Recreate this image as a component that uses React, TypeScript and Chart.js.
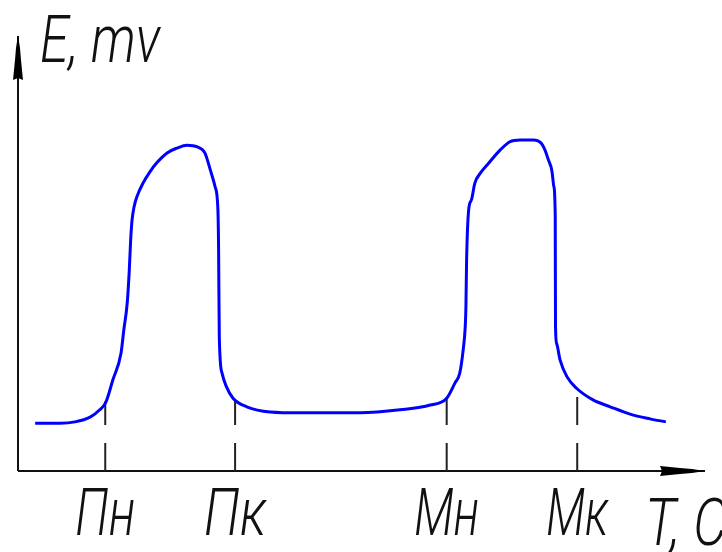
import React, { useEffect, useRef } from "react";
import { Chart, registerables } from "chart.js";

Chart.register(...registerables);

// Curve samples (T and E in arbitrary units 0..100)
const curveT = [2.5, 6.1, 8.3, 10.5, 11.9, 12.8, 13.8, 15.0, 15.4, 15.9, 16.2, 16.4, 16.6, 16.9, 17.3, 18.2, 19.2, 20.2, 21.7, 23.1, 24.6, 26.1, 27.2, 28.0, 28.7, 29.1, 29.2, 29.3, 29.7, 30.3, 31.3, 33.3, 36.7, 41.1, 49.8, 55.6, 60.0, 62.4, 63.6, 64.3, 64.8, 65.1, 65.2, 65.3, 65.6, 66.0, 66.5, 67.3, 68.5, 70.2, 71.6, 73.1, 75.0, 76.2, 76.7, 77.2, 77.7, 78.0, 78.2, 78.24, 78.4, 78.9, 79.9, 81.3, 83.7, 86.2, 89.1, 92.0, 94.3];
const curveE = [11.1, 11.1, 11.4, 12.5, 14.2, 16.0, 21.1, 27.4, 32.7, 39.0, 46.6, 53.6, 58.2, 61.3, 63.6, 66.8, 69.4, 71.5, 73.8, 74.9, 75.6, 75.2, 73.8, 69.8, 65.9, 60.6, 51.3, 31.1, 22.7, 19.7, 16.9, 14.9, 13.7, 13.5, 13.5, 14.2, 15.3, 16.9, 20.4, 22.7, 28.1, 33.5, 38.1, 49.0, 60.6, 62.9, 66.8, 69.1, 71.4, 74.5, 76.4, 76.8, 76.8, 76.0, 74.5, 72.2, 69.8, 66.0, 59.0, 33.5, 29.6, 25.8, 21.9, 19.2, 16.5, 14.9, 13.2, 12.1, 11.4];

// Marked points on the T axis
const tickLabels = ["Пн", "Пк", "Мн", "Мк"];
const tickT = [12.7, 31.6, 62.4, 81.4];
const tickE = [16.2, 16.2, 16.9, 19.3];

const yAxisTitle = "E, mv";
const xAxisTitle = "T, C";

const FONT_FAMILY = "Roboto, 'DejaVu Sans', sans-serif";

function drawSquished(ctx: CanvasRenderingContext2D, text: string, x: number, baseline: number, targetWidth: number, align: "left" | "center") {
  ctx.save();
  ctx.font = `italic 300 66px ${FONT_FAMILY}`;
  ctx.fillStyle = "#111";
  ctx.textBaseline = "alphabetic";
  ctx.textAlign = "left";
  const w = ctx.measureText(text).width || 1;
  const s = targetWidth / w;
  const startX = align === "center" ? x - targetWidth / 2 : x;
  ctx.translate(startX, baseline);
  ctx.scale(s, 1);
  ctx.fillText(text, 0, 0);
  ctx.restore();
}

const axesPlugin = {
  id: "axesArrows",
  beforeDatasetsDraw(chart: any) {
    const { ctx, chartArea } = chart;
    const { left, right, top, bottom } = chartArea;
    ctx.save();
    ctx.strokeStyle = "#111";
    ctx.lineWidth = 2;
    ctx.beginPath();
    ctx.moveTo(left, bottom);
    ctx.lineTo(left, top - 4);
    ctx.moveTo(left, bottom);
    ctx.lineTo(right, bottom);
    ctx.stroke();
    ctx.fillStyle = "#000";
    // Y arrow
    ctx.beginPath();
    ctx.moveTo(left, top - 5);
    ctx.lineTo(left + 2, top + 8);
    ctx.lineTo(left + 3, top + 20);
    ctx.lineTo(left + 5, top + 40);
    ctx.lineTo(left, top + 38);
    ctx.lineTo(left - 5, top + 40);
    ctx.lineTo(left - 3, top + 20);
    ctx.lineTo(left - 2, top + 8);
    ctx.closePath();
    ctx.fill();
    // X arrow
    ctx.beginPath();
    ctx.moveTo(right, bottom);
    ctx.lineTo(right - 13, bottom - 2);
    ctx.lineTo(right - 25, bottom - 3);
    ctx.lineTo(right - 45, bottom - 5);
    ctx.lineTo(right - 43, bottom);
    ctx.lineTo(right - 45, bottom + 5);
    ctx.lineTo(right - 25, bottom + 3);
    ctx.lineTo(right - 13, bottom + 2);
    ctx.closePath();
    ctx.fill();
    ctx.restore();
  },
  afterDraw(chart: any) {
    const { ctx, chartArea, scales } = chart;
    const { left, top, bottom, right } = chartArea;
    const labelWidths = [60, 62, 65, 62];
    tickLabels.forEach((lab, i) => {
      const x = scales.x.getPixelForValue(tickT[i]);
      drawSquished(ctx, lab, x, bottom + 64, labelWidths[i], "center");
    });
    drawSquished(ctx, yAxisTitle, left + 22, top + 22, 120, "left");
    drawSquished(ctx, xAxisTitle, right - 60, bottom + 74, 82, "left");
  },
};

export default function App() {
  const ref = useRef<HTMLCanvasElement | null>(null);
  useEffect(() => {
    if (!ref.current) return;
    const curve = curveT.map((t, i) => ({ x: t, y: curveE[i] }));
    const markerSets = tickT.map((t, i) => ({
      label: tickLabels[i],
      data: [
        { x: t, y: 0 },
        { x: t, y: tickE[i] },
      ],
      borderColor: "#222",
      borderWidth: 2,
      borderDash: [28, 18],
      pointRadius: 0,
      tension: 0,
      order: 2,
    }));
    const chart = new Chart(ref.current, {
      type: "line",
      data: {
        datasets: [
          {
            label: "E",
            data: curve,
            borderColor: "#0000ff",
            borderWidth: 3,
            pointRadius: 0,
            cubicInterpolationMode: "monotone",
            order: 1,
          } as any,
          ...markerSets,
        ],
      },
      options: {
        animation: false,
        responsive: false,
        layout: { padding: { left: 18, right: 17, top: 40, bottom: 81 } },
        plugins: { legend: { display: false }, tooltip: { enabled: false } },
        scales: {
          x: { type: "linear", min: 0, max: 100, display: false },
          y: { type: "linear", min: 0, max: 100, display: false },
        },
      },
      plugins: [axesPlugin],
    });
    return () => chart.destroy();
  }, []);
  return (
    <div style={{ position: "absolute", left: 0, top: 0, width: 722, height: 552, background: "#fff" }}>
      <canvas ref={ref} width={722} height={552} />
    </div>
  );
}
